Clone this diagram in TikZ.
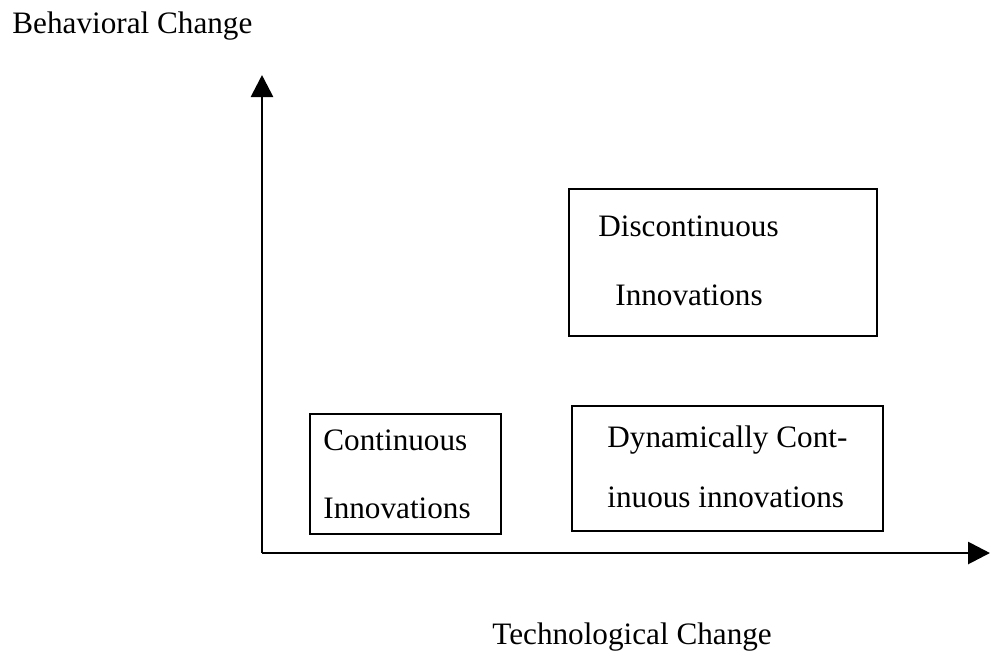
\documentclass[tikz,border=0pt]{standalone}
\usepackage{fontspec}
\setmainfont{Liberation Serif}
\usetikzlibrary{arrows.meta}
\tikzset{
  lbl/.style={inner sep=0pt, anchor=base west, font=\fontsize{15.6}{18}\selectfont},
  quad/.style={draw, line width=1.2pt, inner sep=0pt, anchor=north west},
  axis/.style={line width=1.4pt, -{Triangle[length=11pt,width=11pt]}}
}
\begin{document}
\begin{tikzpicture}[x=0.5pt,y=-0.5pt]
      \useasboundingbox (0,0) rectangle (991,661);
      % axes
      \coordinate (origin) at (262,553);
      \coordinate (ytip) at (262,75);
      \coordinate (xtip) at (990,553);
      \draw[axis] (origin) to (ytip);
      \draw[axis] (origin) to (xtip);
      \draw
        (12,33) node[lbl] (ylab){Behavioral Change}
        (492,644) node[lbl] (xlab){Technological Change};
      % boxes
      \draw
        (568,188) node[quad, minimum width=154pt, minimum height=73.5pt] (disc){}
        (309,413) node[quad, minimum width=95.5pt, minimum height=60pt] (cont){}
        (571,405) node[quad, minimum width=155.5pt, minimum height=62.5pt] (dyn){};
      \draw
        (598,236) node[lbl] (disc1){Discontinuous}
        (615,305) node[lbl] (disc2){Innovations}
        (323,450) node[lbl] (cont1){Continuous}
        (323,518) node[lbl] (cont2){Innovations}
        (607,447) node[lbl] (dyn1){Dynamically Cont-}
        (607,507) node[lbl] (dyn2){inuous innovations};
    \end{tikzpicture}
\end{document}
